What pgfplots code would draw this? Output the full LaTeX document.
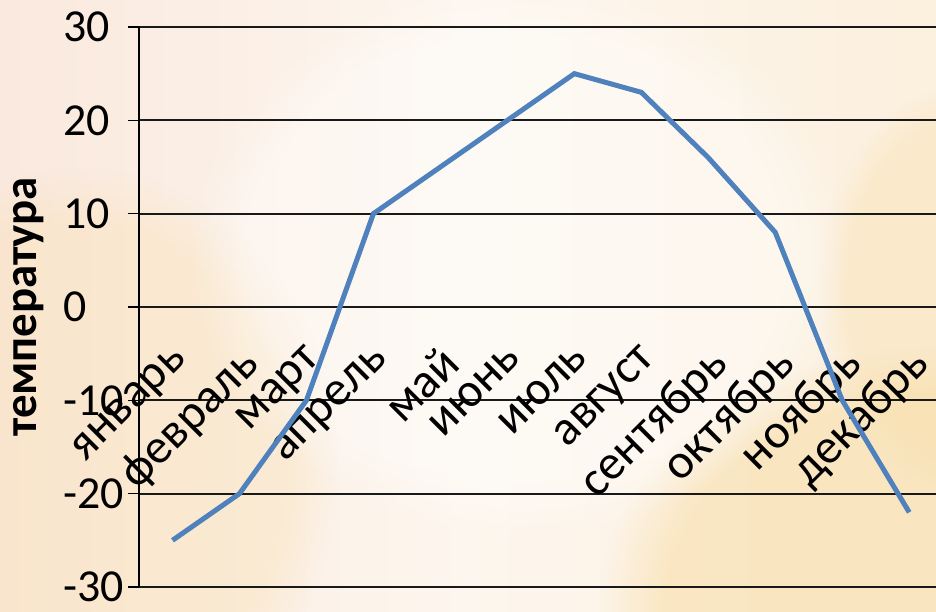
\documentclass[border=0pt]{standalone}
\usepackage{fontspec}
\setmainfont{Carlito}
\usepackage{pgfplots}
\pgfplotsset{compat=1.18}
\usetikzlibrary{fadings}
\definecolor{lineblue}{HTML}{4F81BD}
\definecolor{bgleft}{HTML}{FAE9DE}
\definecolor{bgmid}{HTML}{FDF6EE}
\definecolor{bgright}{HTML}{FCF0DE}
\definecolor{glow}{HTML}{F8DDA6}
\begin{document}
\begin{tikzpicture}[x=1bp,y=1bp]
\shade[left color=bgleft, right color=bgright, middle color=bgmid] (-139,-25) rectangle (797,587);
\fill[glow, path fading=circle with fuzzy edge 20 percent, opacity=0.55] (790,-20) ellipse (330 and 260);
\fill[glow, path fading=circle with fuzzy edge 20 percent, opacity=0.35] (820,300) ellipse (140 and 200);
\fill[glow, path fading=circle with fuzzy edge 20 percent, opacity=0.3] (-60,120) ellipse (260 and 300);
\fill[white, path fading=circle with fuzzy edge 20 percent, opacity=0.4] (380,330) ellipse (330 and 280);
\begin{axis}[
  at={(0,0)}, anchor=south west,
  scale only axis, width=797bp, height=560bp,
  xmin=-0.5, xmax=11.4, ymin=-30, ymax=30,
  xtick={0,1,...,11},
  xticklabels={январь,февраль,март,апрель,май,июнь,июль,август,сентябрь,октябрь,ноябрь,декабрь},
  ytick={-30,-20,...,30},
  axis y line*=left, axis x line*=bottom,
  x axis line style={draw=none},
  y axis line style={-, black, line width=1.3bp},
  xtick style={draw=none},
  ytick style={black, line width=1.3bp},
  tick align=outside, major tick length=11bp,
  ymajorgrids, major grid style={black!90, line width=1.8bp},
  /pgf/number format/assume math mode=true,
  yticklabel style={font=\fontsize{46}{46}\selectfont, anchor=west, inner sep=0pt, xshift=-65bp},
  xticklabel style={font=\fontsize{49}{49}\selectfont, inner sep=2bp, yshift=258bp, xshift=-2bp, rotate=45, anchor=north east},
  ylabel={температура},
  ylabel style={font=\bfseries\fontsize{47}{47}\selectfont, at={(axis description cs:-0.139,0.5)}, anchor=center},
  clip=false,
]
\addplot[lineblue, line width=5bp] coordinates {(0,-25) (1,-20) (2,-10) (3,10) (4,15) (5,20) (6,25) (7,23) (8,16) (9,8) (10,-10) (11,-22)};
\end{axis}
\pgfresetboundingbox
\useasboundingbox (-139,-25) rectangle (797,587);
\end{tikzpicture}
\end{document}
